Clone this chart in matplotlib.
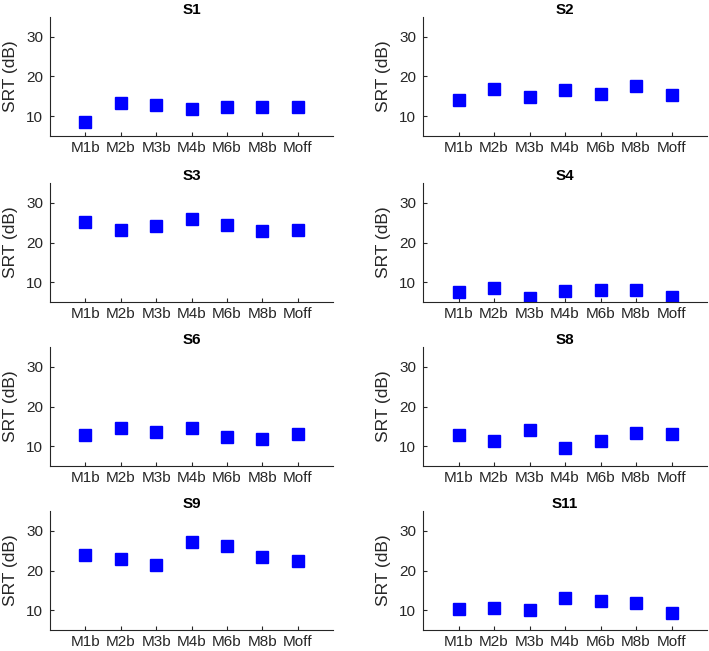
import numpy as np
import matplotlib.pyplot as plt

plt.rcParams['font.family'] = ['Liberation Sans', 'DejaVu Sans']

conditions = ['M1b', 'M2b', 'M3b', 'M4b', 'M6b', 'M8b', 'Moff']
subjects = ['S1', 'S2', 'S3', 'S4', 'S6', 'S8', 'S9', 'S11']

srt_s1 = [8.6, 13.2, 12.7, 11.9, 12.3, 12.4, 12.4]
srt_s2 = [14.1, 16.8, 14.9, 16.6, 15.5, 17.5, 15.4]
srt_s3 = [25.1, 23.1, 24.1, 25.9, 24.5, 22.8, 23.2]
srt_s4 = [7.6, 8.6, 5.9, 7.8, 8.1, 8.1, 6.3]
srt_s6 = [12.9, 14.6, 13.6, 14.6, 12.4, 11.9, 13.1]
srt_s8 = [12.9, 11.2, 14.1, 9.5, 11.2, 13.3, 13.1]
srt_s9 = [23.8, 22.9, 21.4, 27.3, 26.3, 23.5, 22.4]
srt_s11 = [10.2, 10.6, 10.0, 13.0, 12.3, 11.9, 9.2]

all_srt = [srt_s1, srt_s2, srt_s3, srt_s4, srt_s6, srt_s8, srt_s9, srt_s11]

fig = plt.figure(figsize=(7.09, 6.51), dpi=100)

lefts = [50 / 709, 423 / 709]
widths = [283 / 709, 284 / 709]
bottoms = [1 - 136 / 651, 1 - 302 / 651, 1 - 466 / 651, 1 - 630 / 651]
height = 119 / 651

axis_col = '#262626'
x = np.arange(1, len(conditions) + 1)

for k, (name, vals) in enumerate(zip(subjects, all_srt)):
    row, col = divmod(k, 2)
    ax = fig.add_axes([lefts[col], bottoms[row], widths[col], height])
    ax.plot(x, vals, linestyle='none', marker='s', markersize=8,
            color='#0000ff', markeredgecolor='#0000ff')
    ax.set_xlim(0, 8)
    ax.set_ylim(5, 35)
    ax.set_xticks(x)
    ax.set_xticklabels(conditions)
    ax.set_yticks([10, 20, 30])
    ax.set_ylabel('SRT (dB)', fontsize=12.5, color=axis_col, labelpad=6)
    ax.set_title(name, fontsize=11, fontweight='bold', pad=2.5)
    ax.spines['top'].set_visible(False)
    ax.spines['right'].set_visible(False)
    for s in ['left', 'bottom']:
        ax.spines[s].set_color(axis_col)
        ax.spines[s].set_linewidth(0.8)
    ax.tick_params(direction='in', length=3, width=0.8, colors=axis_col,
                   labelsize=11, labelcolor=axis_col, pad=5)
    ax.tick_params(axis='x', pad=3.5)

fig.savefig('out.png', dpi=100)
